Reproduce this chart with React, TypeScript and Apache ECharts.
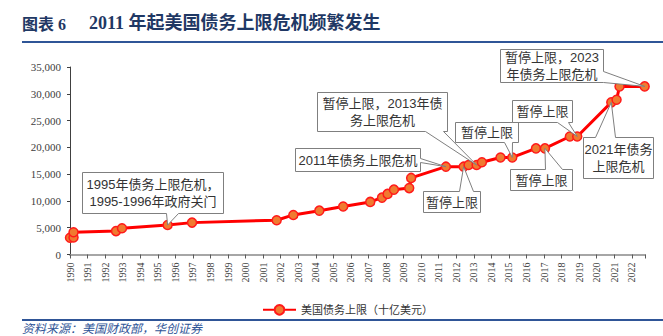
import React, { useEffect, useRef } from 'react';
import * as echarts from 'echarts';

// Decimal years of each debt-limit change
const years = [
  1990.0, 1990.2, 1990.2, 1992.62, 1992.96, 1995.56, 1996.95, 2001.77, 2002.72, 2004.2,
  2005.56, 2007.1, 2007.77, 2008.09, 2008.45, 2009.32, 2009.43, 2011.41, 2012.42, 2012.7,
  2013.16, 2013.46, 2014.52, 2015.19, 2016.54, 2017.05, 2018.47, 2018.89, 2020.83, 2021.13,
  2021.3, 2022.73,
];
// US debt limit, billions of USD
const debtLimit = [
  3123, 3195, 4145, 4370, 4900, 5500, 5950, 6400, 7384, 8184,
  8965, 9815, 10615, 11315, 12104, 12394, 14294, 16394, 16394, 16699,
  16699, 17212, 18113, 18113, 19809, 19809, 22030, 22030, 28401, 28881,
  31381, 31381,
];
const seriesName = '美国债务上限（十亿美元）';
const titleLead = '图表 6';
const titleMain = '2011 年起美国债务上限危机频繁发生';
const sourceText = '资料来源：美国财政部，华创证券';

// Callouts: which point they mark, and their box placement relative to that point (px)
const annotationTexts = [
  '1995年债务上限危机，\n1995-1996年政府关门',
  '2011年债务上限危机',
  '暂停上限，2013年债\n务上限危机',
  '暂停上限',
  '暂停上限',
  '暂停上限',
  '暂停上限',
  '2021年债务\n上限危机',
  '暂停上限，2023\n年债务上限危机',
];
const annotationPoints = [5, 17, 20, 18, 23, 25, 27, 28, 31];
const annotationLayout = [
  { box: [-86, -53, 141, 41], side: 'bottom', base: [84, 96] },
  { box: [-151, -19, 125, 23], side: 'right', base: [10, 14] },
  { box: [-160, -73, 130, 39], side: 'bottom', base: [108, 126] },
  { box: [-41, 24, 57, 21], side: 'top', base: [36, 50] },
  { box: [-57, -35, 63, 20], side: 'bottom', base: [49, 57] },
  { box: [-35, 21, 62, 21], side: 'top', base: [35, 52] },
  { box: [-65, -36, 60, 22], side: 'bottom', base: [45, 56] },
  { box: [-28, 35, 70, 41], side: 'top', base: [12, 32] },
  { box: [-145, -37, 103, 33], side: 'right', base: [22, 33] },
];

const sansFont = '"Liberation Sans", "Noto Sans CJK SC", sans-serif';
const serifFont = '"Liberation Serif", "Noto Sans CJK SC", serif';

export default function App() {
  const ref = useRef<HTMLDivElement>(null);

  useEffect(() => {
    if (!ref.current) return;
    const chart = echarts.init(ref.current, undefined, { renderer: 'svg' });

    const lineData = years.map((y, i) => [y, debtLimit[i]]);
    const annData = annotationPoints.map((p) => [years[p], debtLimit[p]]);

    const option: any = {
      animation: false,
      backgroundColor: '#ffffff',
      grid: { left: 70, right: 18, top: 67, bottom: 81.5, containLabel: false },
      legend: {
        data: [seriesName],
        left: 257,
        top: 299,
        itemWidth: 33,
        itemHeight: 12,
        textStyle: { fontSize: 11, color: '#333', fontFamily: sansFont },
      },
      xAxis: {
        type: 'value',
        min: 1990,
        max: 2022.75,
        interval: 1,
        axisLine: { show: true, lineStyle: { color: '#a6a6a6', width: 2 } },
        axisTick: { show: true, length: 4, lineStyle: { color: '#595959', width: 1 } },
        axisLabel: {
          rotate: 90,
          margin: 8,
          fontSize: 10,
          color: '#404040',
          fontFamily: serifFont,
          formatter: (v: number) => (Number.isInteger(v) ? String(v) : ''),
        },
        splitLine: { show: false },
      },
      yAxis: {
        type: 'value',
        min: 0,
        max: 35000,
        interval: 5000,
        axisLine: { show: true, lineStyle: { color: '#404040', width: 1 } },
        axisTick: { show: true, length: 3, lineStyle: { color: '#404040' } },
        axisLabel: {
          margin: 9,
          fontSize: 11,
          color: '#404040',
          fontFamily: serifFont,
          formatter: (v: number) => v.toLocaleString('en-US'),
        },
        splitLine: { show: false },
      },
      series: [
        {
          name: seriesName,
          type: 'line',
          data: lineData,
          symbol: 'circle',
          symbolSize: 9,
          lineStyle: { color: '#ff0000', width: 3 },
          itemStyle: { color: '#f07a30', borderColor: '#ff1a1a', borderWidth: 1.5 },
          z: 3,
        },
        {
          name: 'annotations',
          type: 'custom',
          data: annData,
          clip: false,
          z: 10,
          silent: true,
          renderItem: (params: any, api: any) => {
            const i = params.dataIndex;
            const lay = annotationLayout[i];
            const tip = api.coord([api.value(0), api.value(1)]);
            const [dx, dy, w, h] = lay.box;
            const x0 = Math.round(tip[0] + dx) + 0.5;
            const y0 = Math.round(tip[1] + dy) + 0.5;
            const x1 = x0 + w;
            const y1 = y0 + h;
            const [b0, b1] = lay.base;
            let pts: number[][];
            if (lay.side === 'top') {
              pts = [[x0, y0], [x0 + b0, y0], tip, [x0 + b1, y0], [x1, y0], [x1, y1], [x0, y1]];
            } else if (lay.side === 'right') {
              pts = [[x0, y0], [x1, y0], [x1, y0 + b0], tip, [x1, y0 + b1], [x1, y1], [x0, y1]];
            } else if (lay.side === 'bottom') {
              pts = [[x0, y0], [x1, y0], [x1, y1], [x0 + b1, y1], tip, [x0 + b0, y1], [x0, y1]];
            } else {
              pts = [[x0, y0], [x1, y0], [x1, y1], [x0, y1], [x0, y0 + b1], tip, [x0, y0 + b0]];
            }
            return {
              type: 'group',
              children: [
                {
                  type: 'polygon',
                  shape: { points: pts },
                  style: { fill: '#ffffff', stroke: '#7f7f7f', lineWidth: 1 },
                },
                {
                  type: 'text',
                  x: x0 + w / 2,
                  y: y0 + h / 2,
                  style: {
                    text: annotationTexts[i],
                    textAlign: 'center',
                    textVerticalAlign: 'middle',
                    fontSize: 13,
                    lineHeight: 17,
                    fill: '#333333',
                    fontFamily: sansFont,
                  },
                },
              ],
            };
          },
        },
      ],
      graphic: [
        {
          type: 'text',
          left: 22,
          top: 16,
          style: {
            text: titleLead,
            fontSize: 16,
            fontWeight: 'bold',
            fill: '#1f3864',
            fontFamily: serifFont,
          },
        },
        {
          type: 'text',
          left: 89,
          top: 14,
          style: {
            text: titleMain,
            fontSize: 18,
            fontWeight: 'bold',
            fill: '#1f3864',
            fontFamily: serifFont,
          },
        },
        {
          type: 'line',
          shape: { x1: 22, y1: 42, x2: 663, y2: 42 },
          style: { stroke: '#2f5597', lineWidth: 2 },
        },
        {
          type: 'line',
          shape: { x1: 22, y1: 320, x2: 663, y2: 320 },
          style: { stroke: '#2f5597', lineWidth: 2 },
        },
        {
          type: 'text',
          left: 22,
          top: 323,
          style: {
            text: sourceText,
            fontSize: 12,
            fontStyle: 'italic',
            fill: '#2f5597',
            fontFamily: sansFont,
          },
        },
      ],
    };

    chart.setOption(option);
    return () => chart.dispose();
  }, []);

  return (
    <div
      ref={ref}
      style={{ position: 'absolute', left: 0, top: 0, width: 663, height: 336 }}
    />
  );
}
